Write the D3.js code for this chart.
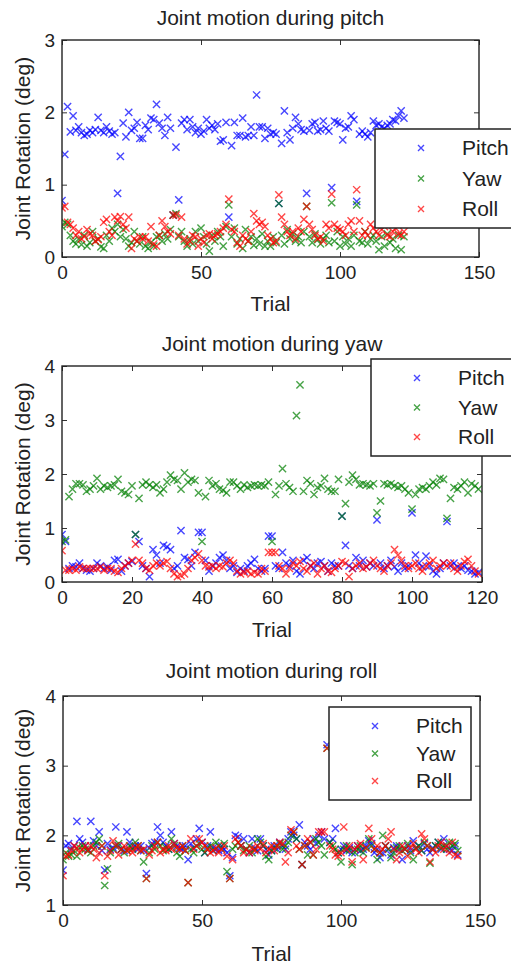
<!DOCTYPE html>
<html><head><meta charset="utf-8">
<script src="https://cdn.jsdelivr.net/npm/d3@7"></script>
<style>
html,body{margin:0;padding:0;background:#fff;}
svg{display:block;font-family:"Liberation Sans",Arial,sans-serif;}
</style>
</head><body>
<svg id="c" width="511" height="969"></svg>
<script>
// ---------- DATA ----------
const seriesNames = ["Pitch", "Yaw", "Roll"];
const seriesColors = ["#0000ff", "#008000", "#ff0000"];

const titles = ["Joint motion during pitch", "Joint motion during yaw", "Joint motion during roll"];
const xLabel = "Trial";
const yLabel = "Joint Rotation (deg)";

const p1XTicks = [0, 50, 100, 150];
const p1YTicks = [0, 1, 2, 3];
const p2XTicks = [0, 20, 40, 60, 80, 100, 120];
const p2YTicks = [0, 1, 2, 3, 4];
const p3XTicks = [0, 50, 100, 150];
const p3YTicks = [1, 2, 3, 4];

// Panel 1: during pitch (trials 0..123)
const p1Pitch = [
0.78,1.42,2.08,1.73,1.95,1.75,1.80,1.72,1.68,1.70,
1.75,1.72,1.76,1.93,1.75,1.72,1.80,1.74,1.70,1.72,
0.88,1.39,1.85,1.66,2.00,1.75,1.78,1.86,1.64,1.64,
1.82,1.76,1.92,1.90,2.11,1.85,1.78,1.68,1.93,1.78,
0.58,1.52,0.79,1.85,1.90,1.76,1.90,1.80,1.72,1.78,
1.70,1.74,1.90,1.78,1.82,1.76,1.84,1.60,1.62,1.86,
0.55,1.54,1.86,1.68,1.68,1.92,1.66,1.68,1.80,1.68,
2.24,1.80,1.80,1.64,1.78,1.70,1.72,1.70,0.74,1.57,
2.02,1.72,1.62,1.78,1.93,1.84,1.76,1.74,0.88,1.75,
1.84,1.86,1.74,1.76,1.88,1.78,1.74,0.96,1.88,1.86,
1.84,1.62,1.78,1.80,1.95,1.90,0.77,1.70,1.74,1.70,
1.66,1.72,1.88,1.82,1.84,1.80,1.78,1.82,1.84,1.90,
1.88,1.95,2.02,1.92];
const p1Yaw = [
0.42,0.48,0.45,0.30,0.22,0.18,0.25,0.17,0.30,0.15,
0.20,0.35,0.22,0.25,0.14,0.12,0.30,0.22,0.40,0.35,
0.45,0.28,0.38,0.25,0.15,0.20,0.35,0.22,0.18,0.28,
0.15,0.12,0.20,0.15,0.28,0.30,0.22,0.32,0.25,0.38,
0.58,0.60,0.28,0.35,0.22,0.15,0.25,0.18,0.35,0.22,
0.40,0.28,0.18,0.08,0.30,0.22,0.35,0.28,0.15,0.42,
0.72,0.28,0.40,0.18,0.25,0.12,0.38,0.22,0.28,0.16,
0.25,0.18,0.32,0.15,0.22,0.15,0.28,0.20,0.74,0.30,
0.18,0.38,0.25,0.32,0.22,0.28,0.20,0.35,0.70,0.28,
0.20,0.32,0.24,0.18,0.25,0.30,0.20,0.75,0.22,0.35,
0.15,0.28,0.18,0.25,0.15,0.30,0.72,0.22,0.20,0.35,
0.18,0.25,0.30,0.22,0.10,0.28,0.15,0.32,0.20,0.25,
0.12,0.30,0.10,0.28];
const p1Roll = [
0.68,0.70,0.48,0.45,0.40,0.30,0.35,0.25,0.28,0.38,
0.32,0.30,0.22,0.24,0.28,0.48,0.52,0.35,0.30,0.55,
0.50,0.56,0.45,0.40,0.55,0.12,0.25,0.22,0.28,0.25,
0.28,0.22,0.42,0.18,0.15,0.30,0.50,0.42,0.35,0.32,
0.58,0.58,0.30,0.55,0.25,0.18,0.22,0.30,0.28,0.15,
0.25,0.20,0.30,0.32,0.25,0.30,0.32,0.35,0.40,0.45,
0.80,0.38,0.35,0.20,0.15,0.30,0.25,0.22,0.35,0.60,
0.50,0.45,0.48,0.42,0.30,0.25,0.20,0.22,0.86,0.55,
0.45,0.35,0.30,0.35,0.25,0.40,0.35,0.52,0.70,0.45,
0.38,0.30,0.25,0.28,0.22,0.45,0.40,0.87,0.45,0.40,
0.38,0.35,0.30,0.45,0.50,0.35,0.93,0.50,0.30,0.35,
0.30,0.45,0.40,0.35,0.30,0.38,0.42,0.30,0.28,0.35,
0.40,0.32,0.30,0.35];

// Panel 2: during yaw (trials 0..119)
const p2Pitch = [
0.88,0.75,0.25,0.30,0.28,0.35,0.25,0.22,0.20,0.25,
0.35,0.30,0.25,0.28,0.22,0.40,0.42,0.20,0.30,0.35,
0.38,0.88,0.75,0.30,0.25,0.10,0.60,0.50,0.35,0.68,
0.65,0.60,0.25,0.30,0.95,0.45,0.42,0.30,0.55,0.92,
0.92,0.40,0.20,0.30,0.35,0.45,0.50,0.40,0.25,0.30,
0.18,0.25,0.20,0.30,0.35,0.42,0.25,0.20,0.25,0.85,
0.85,0.30,0.25,0.55,0.35,0.30,0.40,0.20,0.15,0.40,
0.45,0.30,0.25,0.35,0.38,0.30,0.20,0.35,0.30,0.30,
1.22,0.68,0.30,0.25,0.45,0.30,0.40,0.28,0.35,0.30,
1.15,0.35,0.25,0.30,0.40,0.28,0.20,0.35,0.25,0.30,
1.28,0.50,0.35,0.28,0.48,0.30,0.20,0.15,0.25,0.35,
1.12,0.30,0.35,0.28,0.25,0.30,0.22,0.20,0.15,0.18];
const p2Yaw = [
0.75,0.78,1.58,1.72,1.82,1.82,1.80,1.68,1.72,1.78,
1.92,1.72,1.78,1.75,1.78,1.80,1.90,1.68,1.65,1.62,
1.78,0.88,1.55,1.80,1.85,1.80,1.75,1.80,1.65,1.72,
1.85,1.98,1.90,1.88,1.72,2.02,1.85,1.90,1.88,1.65,
0.75,1.58,1.88,1.78,1.82,1.72,1.70,1.65,1.85,1.85,
1.78,1.72,1.80,1.75,1.78,1.80,1.78,1.80,1.78,1.85,
0.75,1.62,1.78,2.10,1.82,1.75,1.68,3.08,3.65,1.68,
1.88,1.82,1.62,1.75,1.78,1.92,1.72,1.68,1.68,1.90,
1.22,1.45,1.85,1.98,1.90,1.80,1.82,1.80,1.78,1.82,
1.28,1.50,1.82,1.80,1.82,1.78,1.75,1.78,1.72,1.65,
1.35,1.62,1.72,1.75,1.72,1.78,1.85,1.80,1.92,1.90,
1.18,1.55,1.75,1.72,1.78,1.85,1.65,1.82,1.78,1.72];
const p2Roll = [
0.58,0.22,0.22,0.25,0.22,0.28,0.25,0.25,0.25,0.25,
0.25,0.28,0.22,0.25,0.25,0.20,0.18,0.25,0.30,0.35,
0.40,0.70,0.40,0.35,0.25,0.22,0.30,0.35,0.30,0.35,
0.38,0.25,0.15,0.10,0.12,0.15,0.25,0.40,0.45,0.52,
0.40,0.30,0.28,0.30,0.25,0.30,0.28,0.35,0.40,0.35,
0.20,0.15,0.18,0.20,0.15,0.18,0.15,0.25,0.20,0.55,
0.55,0.55,0.30,0.25,0.15,0.25,0.35,0.30,0.38,0.25,
0.20,0.30,0.35,0.15,0.25,0.30,0.20,0.18,0.25,0.30,
0.38,0.35,0.10,0.25,0.30,0.35,0.25,0.28,0.35,0.40,
0.30,0.25,0.20,0.30,0.35,0.60,0.50,0.40,0.30,0.25,
0.30,0.35,0.25,0.20,0.30,0.35,0.40,0.25,0.30,0.35,
0.30,0.35,0.25,0.20,0.30,0.38,0.42,0.30,0.20,0.15];

// Panel 3: during roll (trials 0..142)
const p3Pitch = [
1.50,1.85,1.88,1.80,1.85,2.20,1.95,1.90,1.85,1.80,
2.20,1.92,1.85,2.05,1.78,1.50,1.88,1.80,1.82,2.12,
1.85,1.80,1.78,2.05,1.90,1.82,1.85,1.80,1.85,1.78,
1.45,1.82,1.88,1.90,2.12,2.00,1.90,1.85,1.80,2.05,
1.88,1.85,1.82,1.80,1.85,1.65,1.88,1.82,1.95,2.10,
1.90,1.75,1.85,2.05,1.82,1.80,1.78,1.85,1.80,1.75,
1.42,1.68,2.00,1.98,1.85,1.95,1.80,1.75,1.95,1.82,
1.78,1.95,1.85,1.80,1.72,1.78,1.85,1.80,1.90,1.85,
1.80,1.95,2.05,2.00,1.95,2.15,1.58,1.90,1.85,1.80,
1.95,1.88,2.00,2.05,1.95,3.30,1.90,1.95,2.10,1.75,
1.80,1.85,1.78,1.82,1.75,1.80,1.85,1.78,1.80,1.85,
1.92,1.88,1.75,1.80,1.68,1.75,1.85,1.80,1.72,1.82,
1.85,1.80,1.65,1.80,1.85,1.78,1.92,1.82,1.85,1.78,
1.88,1.80,1.75,1.82,1.85,1.90,1.80,1.95,1.85,1.80,
1.78,1.85,1.72];
const p3Yaw = [
1.65,1.75,1.70,1.72,1.78,1.70,1.82,1.85,1.80,1.78,
1.75,1.85,1.90,1.95,1.85,1.28,1.52,1.75,1.80,1.85,
1.88,1.80,1.75,1.78,1.85,1.80,1.90,1.85,1.78,1.62,
1.38,1.75,1.85,1.80,1.90,1.85,1.78,1.82,1.80,1.95,
1.85,1.75,1.70,1.85,1.78,1.32,1.80,1.75,1.85,1.88,
1.80,1.75,1.82,1.85,1.78,1.90,1.85,1.80,1.88,1.48,
1.38,1.80,1.85,1.90,1.85,1.78,1.80,1.85,1.75,1.80,
1.95,1.90,1.85,1.70,1.65,1.78,1.82,1.85,1.88,1.80,
1.85,1.90,2.00,2.05,1.95,1.80,1.58,1.85,1.72,1.90,
1.72,1.95,1.90,1.85,1.72,3.25,1.90,1.85,1.80,1.75,
1.62,1.80,1.85,1.78,1.58,1.75,1.80,1.85,1.75,1.82,
1.95,1.85,1.80,1.65,1.75,2.00,1.85,1.80,1.68,1.75,
1.82,1.85,1.78,1.80,1.88,1.75,1.65,1.82,1.85,1.78,
1.90,1.85,1.60,1.80,1.85,1.90,1.82,1.85,1.80,1.90,
1.85,1.88,1.78];
const p3Roll = [
1.42,1.70,1.72,1.78,1.85,1.82,1.75,1.80,1.85,1.78,
1.85,1.80,1.68,1.75,1.85,1.42,1.70,1.78,1.92,1.85,
1.72,1.80,1.85,1.78,1.80,1.75,1.82,1.85,1.78,1.80,
1.38,1.72,1.78,1.85,1.90,1.75,1.80,1.78,1.85,1.80,
1.88,1.82,1.80,1.85,1.78,1.32,1.95,1.80,1.85,1.95,
1.90,1.85,1.80,1.75,1.78,1.82,1.75,1.80,1.85,1.70,
1.38,1.65,1.95,1.90,1.85,1.75,1.80,1.75,1.82,1.78,
1.85,1.80,1.88,1.75,1.80,1.85,1.78,1.85,1.90,1.88,
1.62,1.75,2.08,2.05,1.85,1.80,1.58,1.85,1.95,1.90,
1.72,1.80,2.05,2.05,2.05,3.25,1.85,1.80,1.72,1.70,
1.75,2.12,1.80,1.85,1.62,1.80,1.85,1.88,1.65,1.82,
2.10,1.95,1.80,1.85,1.75,1.80,1.85,1.95,2.05,1.80,
1.65,1.75,1.85,1.80,1.70,1.82,1.88,1.80,1.75,2.02,
1.95,1.85,1.62,1.80,1.75,1.85,1.90,1.80,1.85,1.75,
1.90,1.72,1.70];

// ---------- LAYOUT ----------
const panels = [
  {title: titles[0], series: [p1Pitch, p1Yaw, p1Roll], xDom: [0,150], yDom: [0,3], xTicks: p1XTicks, yTicks: p1YTicks,
   box: {l: 62, r: 479, t: 40, b: 257}, titleY: 25, xLabY: 311, leg: {x: 375, y: 129, w: 150, h: 99}},
  {title: titles[1], series: [p2Pitch, p2Yaw, p2Roll], xDom: [0,120], yDom: [0,4], xTicks: p2XTicks, yTicks: p2YTicks,
   box: {l: 62, r: 482, t: 366, b: 582}, titleY: 351, xLabY: 637, leg: {x: 371, y: 359, w: 150, h: 97}},
  {title: titles[2], series: [p3Pitch, p3Yaw, p3Roll], xDom: [0,150], yDom: [1,4], xTicks: p3XTicks, yTicks: p3YTicks,
   box: {l: 63, r: 480, t: 696, b: 905}, titleY: 678, xLabY: 961, leg: {x: 329, y: 707, w: 142, h: 93}}
];

const svg = d3.select("#c");
const textColor = "#222";
const ms = 3.6; // half marker size

function xMark(g, cx, cy, color, s, op) {
  g.append("path")
    .attr("d", `M${cx-s},${cy-s}L${cx+s},${cy+s}M${cx-s},${cy+s}L${cx+s},${cy-s}`)
    .attr("stroke", color).attr("stroke-width", 1.4).attr("stroke-opacity", op).attr("fill", "none");
}

panels.forEach(p => {
  const b = p.box;
  const x = d3.scaleLinear().domain(p.xDom).range([b.l, b.r]);
  const y = d3.scaleLinear().domain(p.yDom).range([b.b, b.t]);
  const g = svg.append("g");

  // data marks
  const clipId = "clip" + b.t;
  svg.append("clipPath").attr("id", clipId).append("rect")
    .attr("x", b.l).attr("y", b.t).attr("width", b.r - b.l).attr("height", b.b - b.t);
  const pg = g.append("g").attr("clip-path", `url(#${clipId})`);
  p.series.forEach((vals, si) => {
    vals.forEach((v, i) => xMark(pg, x(i), y(v), seriesColors[si], ms, 0.72));
  });

  // axes (inward ticks, MATLAB style)
  const styleAxis = sel => {
    sel.select(".domain").remove();
    sel.selectAll(".tick line").attr("stroke", "#333").attr("stroke-width", 1);
    sel.selectAll(".tick text").attr("fill", textColor).style("font-size", "19px")
      .style("font-family", "'Liberation Sans', Arial, sans-serif");
  };
  g.append("g").attr("transform", `translate(0,${b.b})`)
    .call(d3.axisBottom(x).tickValues(p.xTicks).tickSize(-5).tickPadding(9).tickFormat(d3.format("d")))
    .call(styleAxis);
  g.append("g").attr("transform", `translate(0,${b.t})`)
    .call(d3.axisTop(x).tickValues(p.xTicks).tickSize(-5).tickFormat(""))
    .call(styleAxis);
  g.append("g").attr("transform", `translate(${b.l},0)`)
    .call(d3.axisLeft(y).tickValues(p.yTicks).tickSize(-5).tickPadding(7).tickFormat(d3.format("d")))
    .call(styleAxis);
  g.append("g").attr("transform", `translate(${b.r},0)`)
    .call(d3.axisRight(y).tickValues(p.yTicks).tickSize(-5).tickFormat(""))
    .call(styleAxis);

  // box
  g.append("rect").attr("x", b.l).attr("y", b.t).attr("width", b.r - b.l).attr("height", b.b - b.t)
    .attr("fill", "none").attr("stroke", "#222").attr("stroke-width", 1.4);

  // title and labels
  const cx = (b.l + b.r) / 2;
  g.append("text").attr("x", cx).attr("y", p.titleY).attr("text-anchor", "middle")
    .attr("fill", textColor).style("font-size", "21px").text(p.title);
  g.append("text").attr("x", cx).attr("y", p.xLabY).attr("text-anchor", "middle")
    .attr("fill", textColor).style("font-size", "21px").text(xLabel);
  g.append("text").attr("transform", `translate(30,${(b.t + b.b) / 2}) rotate(-90)`)
    .attr("text-anchor", "middle").attr("fill", textColor).style("font-size", "21px").text(yLabel);

  // legend
  const L = p.leg;
  const lg = g.append("g");
  lg.append("rect").attr("x", L.x).attr("y", L.y).attr("width", L.w).attr("height", L.h)
    .attr("fill", "#fff").attr("stroke", "#222").attr("stroke-width", 1.5);
  const rowH = (L.h - 38) / 2;
  seriesNames.forEach((name, i) => {
    const ry = L.y + 19 + i * rowH;
    xMark(lg, L.x + 46, ry, seriesColors[i], 3, 0.72);
    lg.append("text").attr("x", L.x + 87).attr("y", ry + 7).attr("fill", textColor)
      .style("font-size", "21px").text(name);
  });
});
</script>
</body></html>
